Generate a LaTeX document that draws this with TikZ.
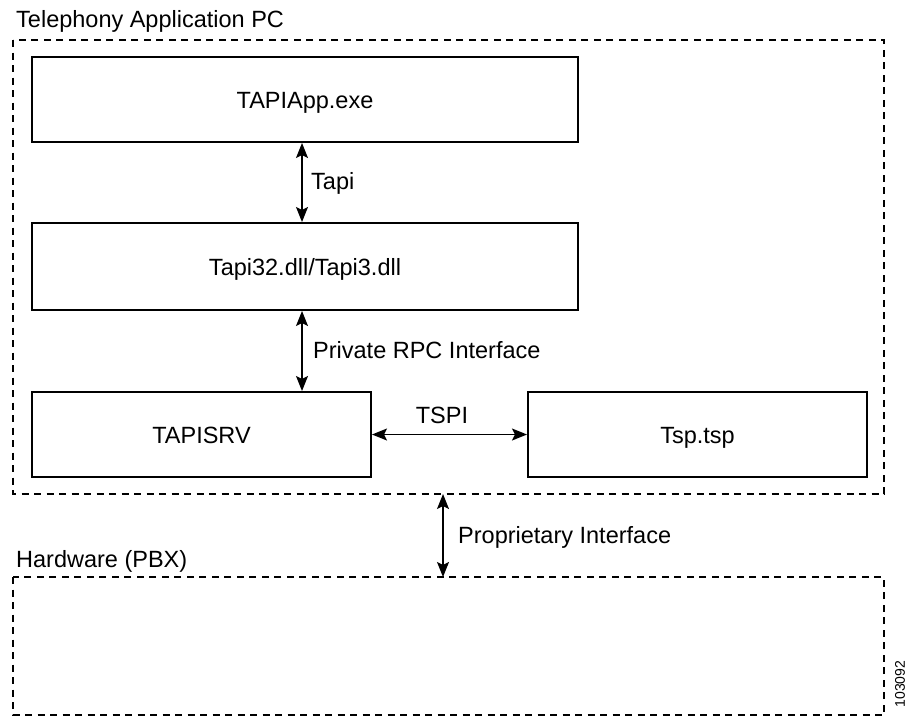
\documentclass[tikz,border=0pt]{standalone}
\usepackage{fontspec}
\setmainfont{Liberation Sans}
\usetikzlibrary{arrows.meta}
\begin{document}
\begin{tikzpicture}[x=1pt,y=-1pt,
  every node/.style={font=\fontsize{23.5}{28}\selectfont},
  region/.style={draw, line width=1.8pt, dash pattern=on 7pt off 5.5pt},
  block/.style={draw, line width=2pt, text height=17pt, text depth=0pt},
  link/.style={line width=1.3pt, {Stealth[length=15pt,width=12pt,inset=3pt]}-{Stealth[length=15pt,width=12pt,inset=3pt]}},
  caption/.style={anchor=west, inner sep=0pt}]
\useasboundingbox (0,0) rectangle (909,718);

% dashed enclosures
\draw[region] (13,40) rectangle (884,494);
\draw[region] (13,577) rectangle (884,715);
\node[caption] (pclabel) at (16,21) {Telephony Application PC};
\node[caption] (hwlabel) at (16,561) {Hardware (PBX)};

% software blocks
\node[block, minimum width=546pt, minimum height=85pt] (app) at (305,99.5) {TAPIApp.exe};
\node[block, minimum width=546pt, minimum height=87pt] (tapi) at (305,266.5) {Tapi32.dll/Tapi3.dll};
\node[block, minimum width=339pt, minimum height=85pt] (srv) at (201.5,434.5) {TAPISRV};
\node[block, minimum width=339pt, minimum height=85pt] (tsp) at (697.5,434.5) {Tsp.tsp};

% interfaces
\draw[link] (app.south -| 302,0) -- (tapi.north -| 302,0);
\node[caption] (tapilbl) at (311,183) {Tapi};
\draw[link] (tapi.south -| 302,0) -- (srv.north -| 302,0);
\node[caption] (rpclbl) at (313,350) {Private RPC Interface};
\draw[link] (srv.east) -- (tsp.west);
\node (tspilbl) at (442,415.5) {TSPI};

\coordinate (pcbottom) at (443,494);
\coordinate (hwtop) at (443,577);
\draw[link] (pcbottom) -- (hwtop);
\node[caption] (proplbl) at (458,537) {Proprietary Interface};

\node[rotate=90, font=\fontsize{14}{16}\selectfont] (figid) at (900,684) {103092};
\end{tikzpicture}
\end{document}
